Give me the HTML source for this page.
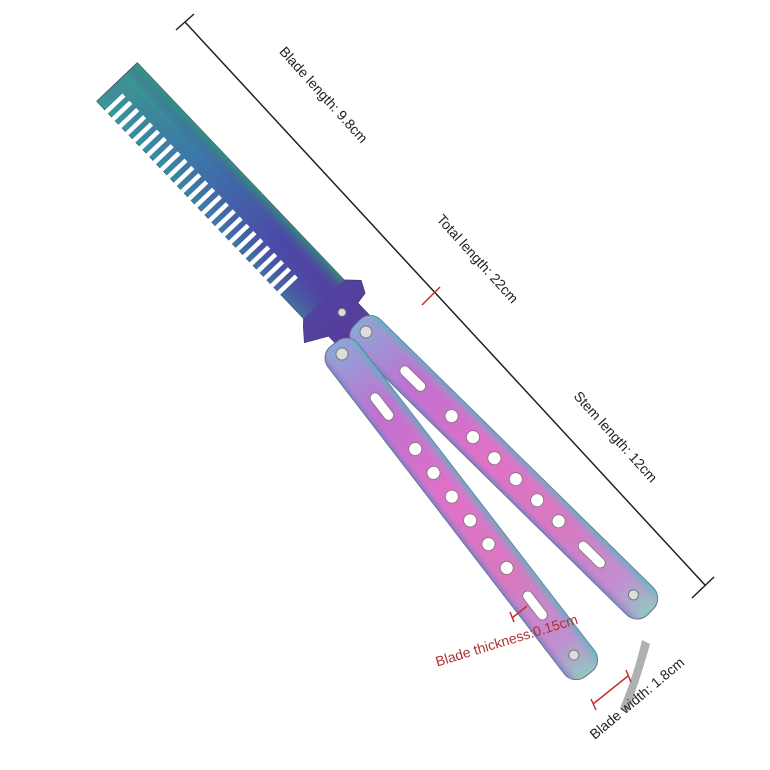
<!DOCTYPE html>
<html><head><style>
html,body{margin:0;padding:0;background:#fff;}
svg{display:block;}
text{font-family:"Liberation Sans",sans-serif;}
</style></head><body>
<svg width="770" height="770" viewBox="0 0 770 770" xmlns="http://www.w3.org/2000/svg">
<defs>
<linearGradient id="comb" x1="0" y1="0" x2="1" y2="0">
<stop offset="0" stop-color="#3a9a90"/>
<stop offset="0.3" stop-color="#3a7aa8"/>
<stop offset="0.6" stop-color="#4a4aa8"/>
<stop offset="1" stop-color="#5a3a98"/>
</linearGradient>
<linearGradient id="combw" x1="0" y1="0" x2="0" y2="1">
<stop offset="0" stop-color="#2a9d70" stop-opacity="0.8"/>
<stop offset="0.3" stop-color="#5a40a8" stop-opacity="0"/>
<stop offset="1" stop-color="#30a0a0" stop-opacity="0.5"/>
</linearGradient>
<linearGradient id="hand" x1="0" y1="0" x2="1" y2="0">
<stop offset="0" stop-color="#8aa8d8"/>
<stop offset="0.2" stop-color="#c070d0"/>
<stop offset="0.45" stop-color="#e070c8"/>
<stop offset="0.7" stop-color="#d878c0"/>
<stop offset="0.9" stop-color="#c090d0"/>
<stop offset="1" stop-color="#90c8c0"/>
</linearGradient>
<linearGradient id="handw" x1="0" y1="0" x2="0" y2="1">
<stop offset="0" stop-color="#40c0c0" stop-opacity="0.7"/>
<stop offset="0.35" stop-color="#e080d0" stop-opacity="0"/>
<stop offset="0.75" stop-color="#e080d0" stop-opacity="0"/>
<stop offset="1" stop-color="#6080c0" stop-opacity="0.7"/>
</linearGradient>
</defs>

<g stroke="#222" stroke-width="1.5">
<line x1="185" y1="22" x2="705" y2="585"/>
<line x1="176" y1="30" x2="194" y2="14"/>
<line x1="692" y1="598" x2="714" y2="577"/>
</g>
<line x1="422" y1="305" x2="440" y2="287" stroke="#c03030" stroke-width="1.5"/>

<text transform="translate(320,98) rotate(48)" font-size="14" fill="#222" text-anchor="middle">Blade length: 9.8cm</text>
<text transform="translate(474,262) rotate(48)" font-size="14" fill="#222" text-anchor="middle">Total length: 22cm</text>
<text transform="translate(612,440) rotate(48)" font-size="14" fill="#222" text-anchor="middle">Stem length: 12cm</text>

<path d="M642,640 L650,644 Q640,680 628,712 L620,708 Q634,675 642,640 Z" fill="#b0b0b0"/>

<!-- comb -->
<g transform="translate(117,82) rotate(46.4)">
<path d="M0,-28 L300,-28 L312,-40 L324,-34 L326,-22 L370,-22 L370,22 L330,22 L318,44 L306,34 L300,28 L0,28 Z" fill="url(#comb)" stroke="#4a3a70" stroke-width="0.8"/>
<path d="M0,-28 L300,-28 L300,28 L0,28 Z" fill="url(#combw)"/>
<g fill="#fff">
<rect x="12" y="4" width="4.5" height="25"/><rect x="22" y="4" width="4.5" height="25"/>
<rect x="32" y="4" width="4.5" height="25"/><rect x="42" y="4" width="4.5" height="25"/>
<rect x="52" y="4" width="4.5" height="25"/><rect x="62" y="4" width="4.5" height="25"/>
<rect x="72" y="4" width="4.5" height="25"/><rect x="82" y="4" width="4.5" height="25"/>
<rect x="92" y="4" width="4.5" height="25"/><rect x="102" y="4" width="4.5" height="25"/>
<rect x="112" y="4" width="4.5" height="25"/><rect x="122" y="4" width="4.5" height="25"/>
<rect x="132" y="4" width="4.5" height="25"/><rect x="142" y="4" width="4.5" height="25"/>
<rect x="152" y="4" width="4.5" height="25"/><rect x="162" y="4" width="4.5" height="25"/>
<rect x="172" y="4" width="4.5" height="25"/><rect x="182" y="4" width="4.5" height="25"/>
<rect x="192" y="4" width="4.5" height="25"/><rect x="202" y="4" width="4.5" height="25"/>
<rect x="212" y="4" width="4.5" height="25"/><rect x="222" y="4" width="4.5" height="25"/>
<rect x="232" y="4" width="4.5" height="25"/><rect x="242" y="4" width="4.5" height="25"/>
<rect x="252" y="4" width="4.5" height="25"/><rect x="262" y="4" width="4.5" height="25"/>
</g>
<circle cx="322" cy="-4" r="4" fill="#ddd" stroke="#777"/>
</g>

<!-- right handle -->
<g transform="translate(366,332) rotate(44.5)">
<rect x="-13" y="-19" width="412" height="38" rx="15" fill="url(#hand)" stroke="#6a6a8a" stroke-width="1"/>
<rect x="-13" y="-19" width="412" height="38" rx="15" fill="url(#handw)"/>
<circle cx="0" cy="0" r="6" fill="#ddd" stroke="#777"/>
<g fill="#fff" stroke="#777" stroke-width="0.8">
<rect x="50" y="-4.5" width="32" height="10" rx="5"/>
<circle cx="120" cy="0" r="6.5"/><circle cx="150" cy="0" r="6.5"/><circle cx="180" cy="0" r="6.5"/>
<circle cx="210" cy="0" r="6.5"/><circle cx="240" cy="0" r="6.5"/><circle cx="270" cy="0" r="6.5"/>
<rect x="300" y="-4.5" width="34" height="10" rx="5"/>
</g>
<circle cx="375" cy="0" r="5" fill="#ddd" stroke="#777"/>
</g>

<!-- left handle -->
<g transform="translate(342,354) rotate(52.4)">
<rect x="-13" y="-19" width="417" height="38" rx="15" fill="url(#hand)" stroke="#6a6a8a" stroke-width="1"/>
<rect x="-13" y="-19" width="417" height="38" rx="15" fill="url(#handw)"/>
<circle cx="0" cy="0" r="6" fill="#ddd" stroke="#777"/>
<g fill="#fff" stroke="#777" stroke-width="0.8">
<rect x="50" y="-4.5" width="32" height="10" rx="5"/>
<circle cx="120" cy="0" r="6.5"/><circle cx="150" cy="0" r="6.5"/><circle cx="180" cy="0" r="6.5"/>
<circle cx="210" cy="0" r="6.5"/><circle cx="240" cy="0" r="6.5"/><circle cx="270" cy="0" r="6.5"/>
<rect x="300" y="-4.5" width="34" height="10" rx="5"/>
</g>
<circle cx="380" cy="0" r="5" fill="#ddd" stroke="#777"/>
</g>

<g stroke="#c03030" stroke-width="1.5">
<line x1="512" y1="618" x2="527" y2="606"/>
<line x1="510" y1="612" x2="514" y2="622"/>
<line x1="593" y1="704" x2="628" y2="676"/>
<line x1="591" y1="699" x2="596" y2="710"/>
<line x1="626" y1="670" x2="631" y2="682"/>
</g>
<text transform="translate(508,645) rotate(-17)" font-size="14" fill="#b03030" text-anchor="middle">Blade thickness:0.15cm</text>
<text transform="translate(640,702) rotate(-40)" font-size="14" fill="#222" text-anchor="middle">Blade width: 1.8cm</text>
</svg>
</body></html>
